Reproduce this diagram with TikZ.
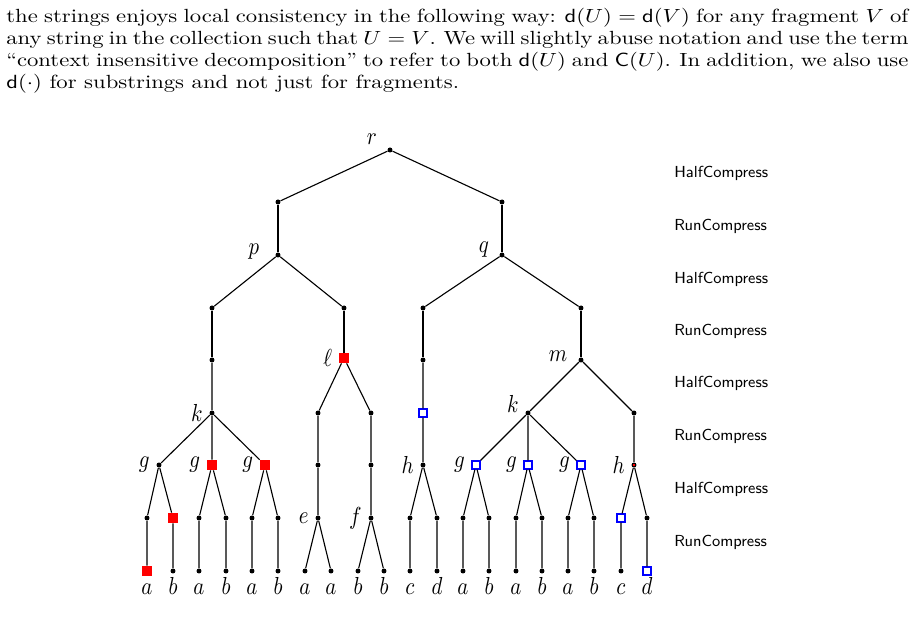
\documentclass[tikz,border=0pt]{standalone}
\usepackage{amsmath}
\usepackage{graphicx}
\newcommand\treelbl[1]{\scalebox{1.13}[1.33]{$#1$}}
\newcommand\paraline[1]{\hbox to 398pt{\spaceskip=3.33pt plus 4pt minus 1.6pt\xspaceskip=4.4pt plus 4pt minus 1.6pt #1}}
\begin{document}
\begin{tikzpicture}[x=0.5405pt,y=-0.5405pt,
  dotnode/.style={circle,fill=black,inner sep=0pt,minimum size=2.7pt},
  redsq/.style={rectangle,fill=red,inner sep=0pt,minimum size=5.4pt},
  bluesq/.style={rectangle,draw=blue,fill=white,line width=0.8pt,inner sep=0pt,minimum size=4.2pt},
  reddot/.style={circle,fill=black,inner sep=0pt,minimum size=2.7pt,
     path picture={\fill[red] (path picture bounding box.center) ++(-0.55pt,-0.55pt) rectangle ++(1.1pt,1.1pt);}},
  edge/.style={line width=0.6pt},
  leaflbl/.style={anchor=base,inner sep=0pt},
  lbl/.style={anchor=base,inner sep=0pt},
  phase/.style={anchor=west,inner sep=0pt,font=\sffamily\small}]
\useasboundingbox (0,0) rectangle (916,629);

% paragraph
\node[anchor=base west,inner sep=0pt] (para) at (6,23)
{\scalebox{1.225}[1.03]{\parbox[t]{398pt}{\fontsize{10}{11.4}\selectfont
\paraline{the strings enjoys local consistency in the following way: $\mathsf{d}(U)=\mathsf{d}(V)$ for any fragment $V$ of}
\paraline{any string in the collection such that $U=V$. We will slightly abuse notation and use the term}
\paraline{``context insensitive decomposition'' to refer to both $\mathsf{d}(U)$ and $\mathsf{C}(U)$. In addition, we also use}
\hbox{$\mathsf{d}(\cdot)$ for substrings and not just for fragments.}}}};

% phase labels
\node[phase] (ph1) at (674,173) {\scalebox{0.96}{HalfCompress}};
\node[phase] (ph2) at (674,226) {\scalebox{0.96}{RunCompress}};
\node[phase] (ph3) at (674,279) {\scalebox{0.96}{HalfCompress}};
\node[phase] (ph4) at (674,331) {\scalebox{0.96}{RunCompress}};
\node[phase] (ph5) at (674,383) {\scalebox{0.96}{HalfCompress}};
\node[phase] (ph6) at (674,436) {\scalebox{0.96}{RunCompress}};
\node[phase] (ph7) at (674,489) {\scalebox{0.96}{HalfCompress}};
\node[phase] (ph8) at (674,542) {\scalebox{0.96}{RunCompress}};

% level 0-4
\node[dotnode] (r) at (390,150) {};
\node[dotnode] (a1) at (278,202) {};
\node[dotnode] (b1) at (502,202) {};
\node[dotnode] (p) at (278,255) {};
\node[dotnode] (q) at (502,255) {};
\node[dotnode] (p1) at (212,308) {};
\node[dotnode] (p2) at (344,308) {};
\node[dotnode] (q1) at (423,308) {};
\node[dotnode] (q2) at (581,308) {};
\node[dotnode] (p1a) at (212,360) {};
\node[redsq,label=left:\treelbl{\ell}] (l) at (344,358) {};
\node[dotnode] (q1a) at (423,360) {};
\node[dotnode] (m) at (581,360) {};
% level 5
\node[dotnode,label=left:\treelbl{k}] (k1) at (212,413) {};
\node[dotnode] (l1) at (318,413) {};
\node[dotnode] (l2) at (371,413) {};
\node[bluesq] (q1b) at (423,413) {};
\node[dotnode] (k2) at (528,413) {};
\node[dotnode] (m2) at (634,413) {};
% level 6
\node[dotnode,label=left:\treelbl{g}] (g1) at (159,465) {};
\node[redsq,label=left:\treelbl{g}] (g2) at (212,465) {};
\node[redsq,label=left:\treelbl{g}] (g3) at (265,465) {};
\node[dotnode] (l1a) at (318,465) {};
\node[dotnode] (l2a) at (371,465) {};
\node[dotnode,label=left:\treelbl{h}] (h1) at (423,465) {};
\node[bluesq,label=left:\treelbl{g}] (g4) at (476,465) {};
\node[bluesq,label=left:\treelbl{g}] (g5) at (528,465) {};
\node[bluesq,label=left:\treelbl{g}] (g6) at (581,465) {};
\node[reddot,label=left:\treelbl{h}] (h2) at (634,465) {};
% level 7
\node[dotnode] (n1) at (147,518) {};
\node[redsq] (n2) at (173,518) {};
\node[dotnode] (n3) at (199,518) {};
\node[dotnode] (n4) at (226,518) {};
\node[dotnode] (n5) at (252,518) {};
\node[dotnode] (n6) at (278,518) {};
\node[dotnode,label=left:\treelbl{e}] (e) at (318,518) {};
\node[dotnode,label=left:\treelbl{f}] (f) at (371,518) {};
\node[dotnode] (n7) at (410,518) {};
\node[dotnode] (n8) at (437,518) {};
\node[dotnode] (n9) at (463,518) {};
\node[dotnode] (n10) at (489,518) {};
\node[dotnode] (n11) at (516,518) {};
\node[dotnode] (n12) at (542,518) {};
\node[dotnode] (n13) at (568,518) {};
\node[dotnode] (n14) at (594,518) {};
\node[bluesq] (n15) at (621,518) {};
\node[dotnode] (n16) at (647,518) {};
% leaves
\node[redsq] (L1) at (147,571) {};
\foreach \i/\x in {2/173,3/199,4/226,5/252,6/278,7/305,8/331,9/358,10/384,11/410,12/437,13/463,14/489,15/516,16/542,17/568,18/594,19/621}
  \node[dotnode] (L\i) at (\x,571) {};
\node[bluesq] (L20) at (647,571) {};
% leaf letters
\foreach \i/\x/\c in {1/147/a,2/173/b,3/199/a,4/226/b,5/252/a,6/278/b,7/305/a,8/331/a,9/358/b,10/384/b,11/410/c,12/437/d,13/463/a,14/489/b,15/516/a,16/542/b,17/568/a,18/594/b,19/621/c,20/647/d}
  \node[leaflbl] (T\i) at (\x,595) {\treelbl{\c}};

% explicit labels
\node[lbl] (lr) at (372,145) {\treelbl{r}};
\node[lbl] (lp) at (254,255) {\treelbl{p}};
\node[lbl] (lq) at (484,253) {\treelbl{q}};
\node[lbl] (lm) at (558,362) {\treelbl{m}};
\node[lbl] (lk2) at (513,413) {\treelbl{k}};

% edges
\draw[edge] (r) -- (a1) (r) -- (b1);
\draw[edge] (a1) -- (p) (b1) -- (q);
\draw[edge] (p) -- (p1) (p) -- (p2) (q) -- (q1) (q) -- (q2);
\draw[edge] (p1) -- (p1a) (p2) -- (l) (q1) -- (q1a) (q2) -- (m);
\draw[edge] (p1a) -- (k1) (l) -- (l1) (l) -- (l2) (q1a) -- (q1b) (m) -- (k2) (m) -- (m2);
\draw[edge] (k1) -- (g1) (k1) -- (g2) (k1) -- (g3) (l1) -- (l1a) (l2) -- (l2a)
  (q1b) -- (h1) (k2) -- (g4) (k2) -- (g5) (k2) -- (g6) (m2) -- (h2);
\draw[edge] (g1) -- (n1) (g1) -- (n2) (g2) -- (n3) (g2) -- (n4) (g3) -- (n5) (g3) -- (n6)
  (l1a) -- (e) (l2a) -- (f) (h1) -- (n7) (h1) -- (n8) (g4) -- (n9) (g4) -- (n10)
  (g5) -- (n11) (g5) -- (n12) (g6) -- (n13) (g6) -- (n14) (h2) -- (n15) (h2) -- (n16);
\draw[edge] (n1) -- (L1) (n2) -- (L2) (n3) -- (L3) (n4) -- (L4) (n5) -- (L5) (n6) -- (L6)
  (e) -- (L7) (e) -- (L8) (f) -- (L9) (f) -- (L10)
  (n7) -- (L11) (n8) -- (L12) (n9) -- (L13) (n10) -- (L14) (n11) -- (L15) (n12) -- (L16)
  (n13) -- (L17) (n14) -- (L18) (n15) -- (L19) (n16) -- (L20);
\end{tikzpicture}
\end{document}
